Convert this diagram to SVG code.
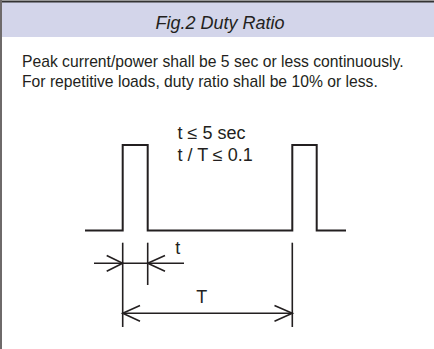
<svg xmlns="http://www.w3.org/2000/svg" width="434" height="349" viewBox="0 0 434 349">
<style>
.t{font-family:"Liberation Sans",Arial,sans-serif;fill:#231f20}
.ln{fill:none;stroke:#231f20;stroke-width:2}
.dim{fill:none;stroke:#231f20;stroke-width:1.6}
</style>
<rect x="0" y="0" width="434" height="349" fill="#ffffff"/>
<g id="header">
<rect x="0" y="2" width="434" height="35" fill="#d3d5ea"/>
<line x1="0" y1="1.5" x2="434" y2="1.5" stroke="#333" stroke-width="2"/>
<text class="t" x="220" y="29" font-size="18" font-style="italic" text-anchor="middle">Fig.2 Duty Ratio</text>
</g>
<line x1="1" y1="0" x2="1" y2="349" stroke="#6e6a6a" stroke-width="2"/>
<g id="description">
<text class="t" x="22" y="67" font-size="15.7">Peak current/power shall be 5 sec or less continuously.</text>
<text class="t" x="22" y="87" font-size="15.7">For repetitive loads, duty ratio shall be 10% or less.</text>
</g>
<g id="conditions">
<text class="t" x="177.5" y="139" font-size="18">t ≤ 5 sec</text>
<text class="t" x="177.5" y="160.5" font-size="18">t / T ≤ 0.1</text>
</g>
<g id="waveform">
<path class="ln" d="M85 230.5 H122.7 V145 H147.7 V230.5 H292.3 V145 H316.7 V230.5 H346"/>
</g>
<g id="connectors">
<line class="dim" x1="122.7" y1="242.7" x2="122.7" y2="327"/>
<line class="dim" x1="147.7" y1="242.7" x2="147.7" y2="285"/>
<line class="dim" x1="292.3" y1="242.7" x2="292.3" y2="327"/>
<line class="dim" x1="94" y1="263.3" x2="184" y2="263.3"/>
<path class="dim" d="M106.7 255.5 L122.7 263.3 L106.7 271.3"/>
<path class="dim" d="M165 255.5 L147.7 263.3 L165 271.3"/>
<line class="dim" x1="122.7" y1="313.3" x2="292.3" y2="313.3"/>
<path class="dim" d="M140 305.5 L122.7 313.3 L140 321.3"/>
<path class="dim" d="M274.5 305.5 L292.3 313.3 L274.5 321.3"/>
</g>
<g id="labels">
<text class="t" x="177.7" y="254" font-size="18" text-anchor="middle">t</text>
<text class="t" x="201.7" y="302.7" font-size="18" text-anchor="middle">T</text>
</g>
</svg>
